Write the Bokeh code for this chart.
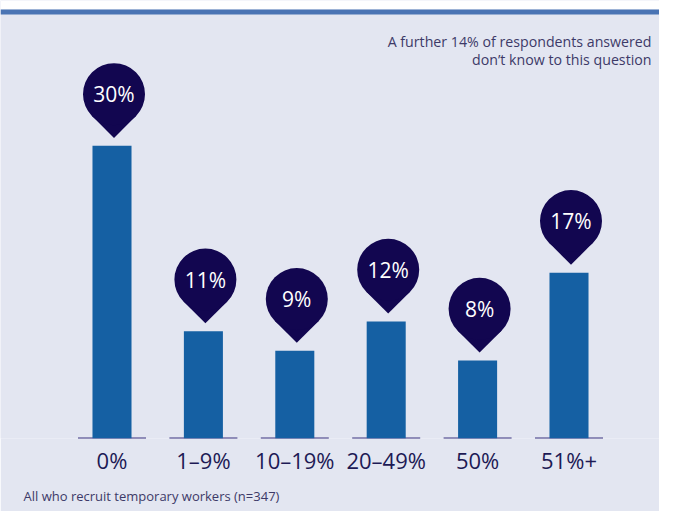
import math
from bokeh.plotting import figure
from bokeh.models import Range1d, FixedTicker, BoxAnnotation, Label, Title
from bokeh.core.properties import value
from bokeh.embed import file_html
from bokeh.resources import INLINE

# ---- data ----
categories = ["0%", "1–9%", "10–19%", "20–49%", "50%", "51%+"]
shares = [30, 11, 9, 12, 8, 17]
pin_labels = [f"{v}%" for v in shares]
note_lines = ["A further 14% of respondents answered",
              "don\u2019t know to this question"]
footnote = "All who recruit temporary workers (n=347)"

# ---- style ----
BG = "#e3e6f1"
BAR = "#1560a3"
PIN = "#120650"
BAND = "#4a74b4"
TXT = "#1d1a55"
NOTE = "#3d3a68"
BASE = "#3a3380"
FONT = "Open Sans"

W, H = 659, 511
FRAME_H = 440
PX_Y = 9.8            # pixels per percentage point
PX_X = 91.4           # pixels per category step
X0_PX = 111.5         # first category centre from frame left
Y_END = FRAME_H / PX_Y
X_START = -X0_PX / PX_X
X_END = X_START + W / PX_X

xs = list(range(len(categories)))

p = figure(width=W, height=H, output_backend="svg", toolbar_location=None,
           x_range=Range1d(X_START, X_END), y_range=Range1d(0, Y_END),
           y_axis_location=None, min_border_left=0, min_border_right=0,
           min_border_top=0, min_border_bottom=H - FRAME_H)
p.background_fill_color = BG
p.border_fill_color = BG
p.outline_line_color = None
p.grid.visible = False

# top white margin and blue band
p.add_layout(BoxAnnotation(bottom=Y_END - 9 / PX_Y, top=Y_END, fill_color="white",
                           fill_alpha=1, line_color=None, level="underlay"))
p.add_layout(BoxAnnotation(bottom=Y_END - 14 / PX_Y, top=Y_END - 9 / PX_Y,
                           fill_color=BAND, fill_alpha=1, line_color=None,
                           level="underlay"))

# baseline segments
half = 0.372
p.segment(x0=[x - half for x in xs], x1=[x + half for x in xs], y0=0, y1=0,
          line_color=BASE, line_width=2)

# bars
p.vbar(x=xs, top=shares, width=0.427, bottom=0, fill_color=BAR, line_color=None)

# pins
R = 31
gap = 8
dx = 2 / PX_X
cy = [v + (gap + R * math.sqrt(2)) / PX_Y for v in shares]
sq = [v + (gap + R * math.sqrt(2) - R / math.sqrt(2)) / PX_Y for v in shares]
px = [x + dx for x in xs]
p.scatter(x=px, y=sq, marker="square", size=R, angle=math.pi / 4,
          fill_color=PIN, line_color=None)
p.circle(x=px, y=cy, radius=R, radius_units="screen", fill_color=PIN, line_color=None)
p.text(x=px, y=cy, text=pin_labels, text_align="center", text_baseline="middle",
       text_font=value(FONT), text_font_size="21px", text_color="white")

# axis
p.xaxis.ticker = FixedTicker(ticks=xs)
p.xaxis.major_label_overrides = {i: c for i, c in enumerate(categories)}
p.xaxis.axis_line_color = None
p.xaxis.major_tick_line_color = None
p.xaxis.minor_tick_line_color = None
p.xaxis.major_tick_out = 0
p.xaxis.major_tick_in = 0
p.xaxis.minor_tick_out = 0
p.xaxis.major_label_standoff = 6
p.xaxis.major_label_text_font = FONT
p.xaxis.major_label_text_font_size = "22px"
p.xaxis.major_label_text_color = TXT

# note (two lines, right aligned)
for i, line in enumerate(note_lines):
    p.add_layout(Label(x=651, x_units="screen", y=Y_END - (41 + 18 * i) / PX_Y,
                       text=line, text_align="right", text_baseline="middle",
                       text_font=FONT, text_font_size="14.2px", text_color=NOTE))

# footnote
p.add_layout(Title(text=footnote, align="left", offset=23, text_font=FONT,
                   text_font_size="13px", text_font_style="normal", text_color=NOTE,
                   standoff=14), "below")

open("out.html", "w").write(file_html(p, INLINE))
